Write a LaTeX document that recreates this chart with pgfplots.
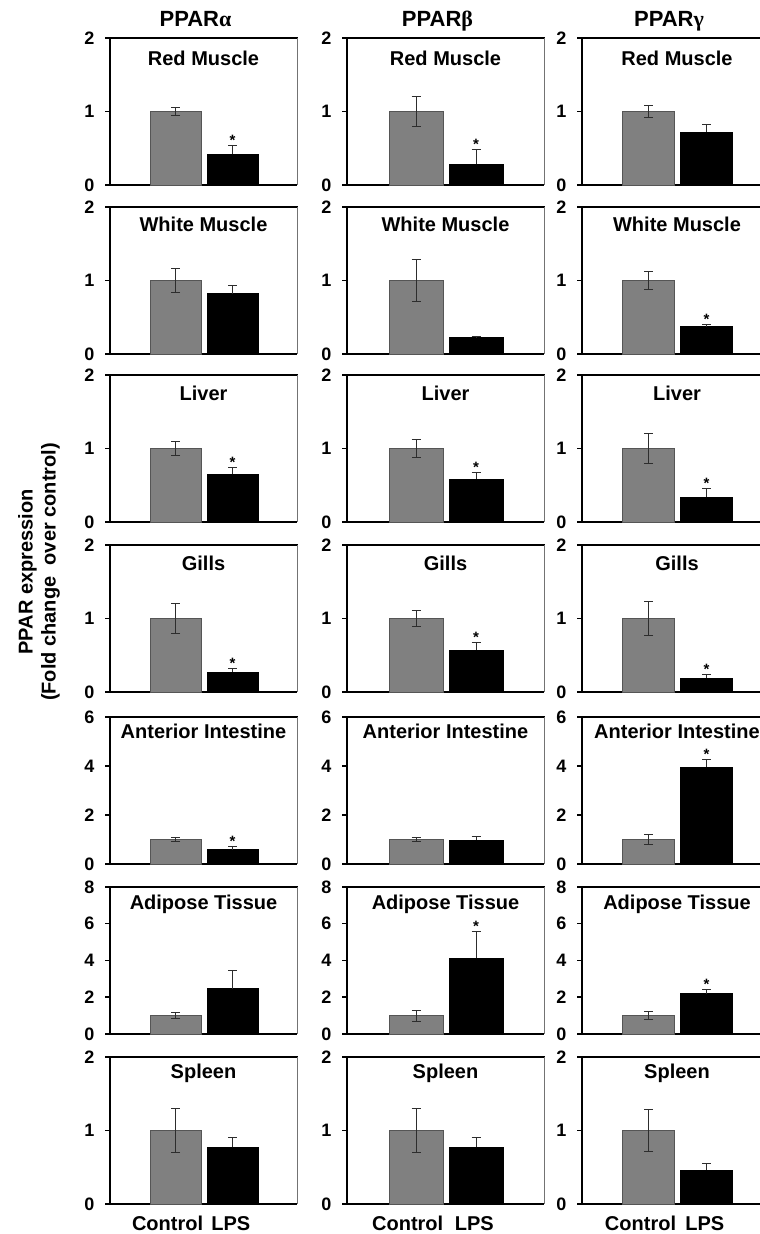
\documentclass[border=0pt]{standalone}
\usepackage{fontspec}
\setmainfont{Liberation Sans}
\newfontfamily\grk{Liberation Serif}
\usepackage{pgfplots}
\pgfplotsset{compat=1.18}

\definecolor{ctrlgray}{RGB}{128,128,128}
\definecolor{edgegray}{RGB}{85,85,85}
\definecolor{errc}{RGB}{45,45,45}

\pgfplotsset{
  lbl/.initial=-25pt,
  panel/.style={
    scale only axis, height=147pt, anchor=south west,
    xmin=-0.15, xmax=3.13, ymin=0,
    axis x line*=bottom, axis y line*=left,
    axis line style={line width=2pt, black},
    xtick=\empty, xtick style={draw=none},
    ytick pos=left, tick align=outside, major tick length=5pt,
    y tick style={line width=1.5pt, black},
    /pgf/number format/assume math mode=true,
    yticklabel style={font=\fontsize{18}{18}\selectfont\bfseries, xshift=-7pt},
    title style={font=\fontsize{22}{22}\selectfont\bfseries, anchor=base, at={(0.5,1)}, yshift=5pt, xshift=-8pt},
    clip=false,
  },
  ctrlbar/.style={ybar, bar shift=0pt, bar width=0.9, fill=ctrlgray, draw=edgegray, line width=0.8pt,
    error bars/.cd, y dir=both, y explicit,
    error bar style={errc, line width=0.9pt},
    error mark options={rotate=90, mark size=4.5pt, line width=0.9pt, errc}},
  lpsbar/.style={ybar, bar shift=0pt, bar width=0.9, fill=black, draw=black, line width=0.8pt,
    error bars/.cd, y dir=plus, y explicit,
    error bar style={errc, line width=0.9pt},
    error mark options={rotate=90, mark size=4.5pt, line width=0.9pt, errc}},
  r1/.style={at={(\px,1049pt)}, ymax=2, ytick={0,1,2}, lbl=-28pt},
  r2/.style={at={(\px,880pt)}, ymax=2, ytick={0,1,2}, lbl=-25pt},
  r3/.style={at={(\px,712pt)}, ymax=2, ytick={0,1,2}, lbl=-26pt},
  r4/.style={at={(\px,542pt)}, ymax=2, ytick={0,1,2}, lbl=-26pt},
  r5/.style={at={(\px,370pt)}, ymax=6, ytick={0,2,4,6}, lbl=-22pt},
  r6/.style={at={(\px,200pt)}, ymax=8, ytick={0,2,4,6,8}, lbl=-23pt},
  r7/.style={at={(\px,30pt)}, ymax=2, ytick={0,1,2}, lbl=-21pt,
    xtick={0.86,1.97}, xticklabels={Control,LPS},
    xticklabel style={font=\fontsize{20}{20}\selectfont\bfseries, anchor=base, yshift=-21pt}},
}

\newcommand\sig[1]{\addplot[mark=none, draw=none, nodes near coords={*},
  nodes near coords align={anchor=base},
  every node near coord/.append style={font=\fontsize{15}{15}\selectfont\bfseries, inner sep=0pt}]
  coordinates {(2,#1)};}

% #1 x (pt), #2 options, #3 label, #4 control, #5 control err, #6 LPS, #7 LPS err, #8 extra
\newcommand\panel[8]{%
  \def\px{#1pt}%
  \begin{axis}[panel, #2]
    \addplot[ctrlbar] coordinates {(1,#4) +- (0,#5)};
    \addplot[lpsbar] coordinates {(2,#6) +- (0,#7)};
    #8
    \draw[line width=1.8pt, line cap=rect] (rel axis cs:0,1) -- (rel axis cs:1,1);
    \draw[line width=0.8pt, black!55] (rel axis cs:1,0) -- (rel axis cs:1,1);
    \node[font=\fontsize{20}{20}\selectfont\bfseries, anchor=base, inner sep=0pt,
      yshift=\pgfkeysvalueof{/pgfplots/lbl}] at (rel axis cs:0.5,1) {#3};
  \end{axis}}

\begin{document}
\begin{tikzpicture}
\useasboundingbox (0,0) rectangle (760pt,1234pt);

% Row 1: Red Muscle
\panel{110}{r1,width=187pt,title={PPAR{\grk α}}}{Red Muscle}{1}{0.06}{0.42}{0.12}{\sig{0.54}}
\panel{347}{r1,width=197pt,title={PPAR{\grk β}}}{Red Muscle}{1}{0.20}{0.28}{0.20}{\sig{0.48}}
\panel{582}{r1,width=190pt,title={PPAR{\grk γ}}}{Red Muscle}{1}{0.08}{0.72}{0.11}{}

% Row 2: White Muscle
\panel{110}{r2,width=187pt}{White Muscle}{1}{0.165}{0.82}{0.11}{}
\panel{347}{r2,width=197pt}{White Muscle}{1}{0.29}{0.22}{0.02}{}
\panel{582}{r2,width=190pt}{White Muscle}{1}{0.12}{0.37}{0.03}{\sig{0.40}}

% Row 3: Liver
\panel{110}{r3,width=187pt}{Liver}{1}{0.09}{0.65}{0.09}{\sig{0.74}}
\panel{347}{r3,width=197pt}{Liver}{1}{0.12}{0.58}{0.09}{\sig{0.67}}
\panel{582}{r3,width=190pt}{Liver}{1}{0.20}{0.34}{0.11}{\sig{0.45}}

% Row 4: Gills
\panel{110}{r4,width=187pt}{Gills}{1}{0.20}{0.27}{0.055}{\sig{0.325}}
\panel{347}{r4,width=197pt}{Gills}{1}{0.115}{0.57}{0.10}{\sig{0.67}}
\panel{582}{r4,width=190pt}{Gills}{1}{0.235}{0.19}{0.05}{\sig{0.24}}

% Row 5: Anterior Intestine
\panel{110}{r5,width=187pt}{Anterior Intestine}{1}{0.08}{0.58}{0.12}{\sig{0.70}}
\panel{347}{r5,width=197pt}{Anterior Intestine}{1}{0.10}{0.97}{0.17}{}
\panel{582}{r5,width=190pt}{Anterior Intestine}{1}{0.22}{3.95}{0.30}{\sig{4.25}}

% Row 6: Adipose Tissue
\panel{110}{r6,width=187pt}{Adipose Tissue}{1}{0.15}{2.47}{0.97}{}
\panel{347}{r6,width=197pt}{Adipose Tissue}{1}{0.30}{4.12}{1.45}{\sig{5.57}}
\panel{582}{r6,width=190pt}{Adipose Tissue}{1}{0.22}{2.20}{0.24}{\sig{2.44}}

% Row 7: Spleen
\panel{110}{r7,width=187pt}{Spleen}{1}{0.30}{0.77}{0.13}{}
\panel{347}{r7,width=197pt}{Spleen}{1}{0.30}{0.77}{0.13}{}
\panel{582}{r7,width=190pt}{Spleen}{1}{0.29}{0.46}{0.09}{}

\node[rotate=90, align=center, font=\fontsize{20}{23}\selectfont\bfseries]
  at (39pt,662pt) {PPAR expression\\(Fold change\ \ over control)};
\end{tikzpicture}
\end{document}
